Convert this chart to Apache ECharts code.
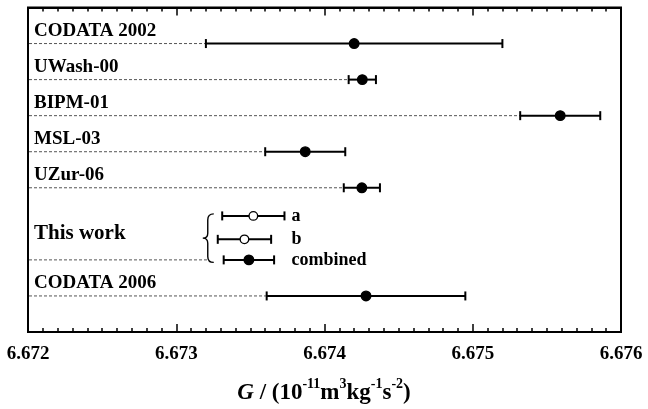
<!DOCTYPE html>
<html>
<head>
<meta charset="utf-8">
<script src="https://cdn.jsdelivr.net/npm/echarts@6/dist/echarts.min.js"></script>
<style>
html,body{margin:0;padding:0;background:#fff;}
#chart{width:648px;height:409px;}
</style>
</head>
<body>
<div id="chart"></div>
<script>
// ---- data ----
const rowLabels = ['CODATA 2002', 'UWash-00', 'BIPM-01', 'MSL-03', 'UZur-06', 'CODATA 2006'];
const rowPos = [8, 7, 6, 5, 4, 1];
const rowValues = [6.67420, 6.674255, 6.67559, 6.67387, 6.674252, 6.67428];
const rowErrors = [0.00100, 0.000092, 0.00027, 0.00027, 0.000122, 0.00067];

const groupLabel = 'This work';
const subLabels = ['a', 'b', 'combined'];
const subPos = [3.22, 2.57, 2];
const subValues = [6.67352, 6.67346, 6.67349];
const subErrors = [0.00021, 0.00018, 0.00017];
const subFilled = [false, false, true];

const xMin = 6.672, xMax = 6.676, xStep = 0.001;
const yMin = 0, yMax = 9;
const xTitle = '{i|G}{n| / (10}{s|-11}{n|m}{s|3}{n|kg}{s|-1}{n|s}{s|-2}{n|)}';

// ---- style ----
const FONT = '"Liberation Serif", "Times New Roman", serif';

function errorBarChildren(api, v, err, y, filled) {
  const pc = api.coord([v, y]);
  const pl = api.coord([v - err, y]);
  const ph = api.coord([v + err, y]);
  const capH = 4.5;
  const st = { stroke: '#000', lineWidth: 2 };
  return [
    { type: 'line', shape: { x1: pl[0], y1: pl[1], x2: ph[0], y2: ph[1] }, style: st },
    { type: 'line', shape: { x1: pl[0], y1: pl[1] - capH, x2: pl[0], y2: pl[1] + capH }, style: st },
    { type: 'line', shape: { x1: ph[0], y1: ph[1] - capH, x2: ph[0], y2: ph[1] + capH }, style: st },
    { type: 'circle', shape: { cx: pc[0], cy: pc[1], r: filled ? 4.8 : 4.3 },
      style: { fill: filled ? '#000' : '#fff', stroke: '#000', lineWidth: 1.3 } }
  ];
}

function dashed(x1, x2, y) {
  return { type: 'line', shape: { x1: x1, y1: y, x2: x2, y2: y },
    style: { stroke: '#555', lineWidth: 1, lineDash: [3, 2] } };
}

function renderRow(params, api) {
  const i = params.dataIndex;
  const v = api.value(0), err = api.value(1), y = api.value(2);
  const p0 = api.coord([xMin, y]);
  const pl = api.coord([v - err, y]);
  const children = [dashed(p0[0] + 1, pl[0], p0[1])];
  children.push.apply(children, errorBarChildren(api, v, err, y, true));
  children.push({ type: 'text', style: {
    text: rowLabels[i], x: p0[0] + 6, y: p0[1] - 12.5,
    fontSize: 19, fontWeight: 'bold', fontFamily: FONT, fill: '#000',
    align: 'left', verticalAlign: 'middle' } });
  return { type: 'group', children: children };
}

function renderSub(params, api) {
  const i = params.dataIndex;
  const v = api.value(0), err = api.value(1), y = api.value(2);
  const children = errorBarChildren(api, v, err, y, subFilled[i]);
  let maxRight = -Infinity, minLeft = Infinity;
  for (let k = 0; k < subValues.length; k++) {
    maxRight = Math.max(maxRight, api.coord([subValues[k] + subErrors[k], subPos[k]])[0]);
    minLeft = Math.min(minLeft, api.coord([subValues[k] - subErrors[k], subPos[k]])[0]);
  }
  const pc = api.coord([v, y]);
  children.push({ type: 'text', style: {
    text: subLabels[i], x: maxRight + 7, y: pc[1] + 0.5,
    fontSize: 18, fontWeight: 'bold', fontFamily: FONT, fill: '#000',
    align: 'left', verticalAlign: 'middle' } });
  if (i === subValues.length - 1) {
    const top = api.coord([xMin, subPos[0]])[1] - 2;
    const bot = api.coord([xMin, subPos[subPos.length - 1]])[1] + 2.5;
    const mid = (top + bot) / 2;
    const tipX = minLeft - 15;
    const stemX = tipX + 5;
    const armX = tipX + 11;
    const p0 = api.coord([xMin, y]);
    children.push(dashed(p0[0] + 1, stemX, pc[1]));
    children.push({ type: 'path', shape: {
      pathData: 'M' + armX + ' ' + top +
        ' Q' + stemX + ' ' + top + ' ' + stemX + ' ' + (top + 6) +
        ' L' + stemX + ' ' + (mid - 5) +
        ' Q' + stemX + ' ' + mid + ' ' + tipX + ' ' + mid +
        ' Q' + stemX + ' ' + mid + ' ' + stemX + ' ' + (mid + 5) +
        ' L' + stemX + ' ' + (bot - 6) +
        ' Q' + stemX + ' ' + bot + ' ' + armX + ' ' + bot
    }, style: { stroke: '#000', lineWidth: 1.4, fill: null } });
    const ym = api.coord([xMin, (subPos[0] + subPos[subPos.length - 1]) / 2])[1];
    children.push({ type: 'text', style: {
      text: groupLabel, x: p0[0] + 6, y: ym - 4,
      fontSize: 21, fontWeight: 'bold', fontFamily: FONT, fill: '#000',
      align: 'left', verticalAlign: 'middle' } });
  }
  return { type: 'group', children: children };
}

function tickAxis(gridIndex, position, inside) {
  return {
    gridIndex: gridIndex,
    type: 'value', min: xMin, max: xMax, interval: xStep, position: position,
    axisLabel: { show: false },
    axisTick: { show: true, inside: inside, length: 8, lineStyle: { color: '#000', width: 1.5 } },
    minorTick: { show: true, splitNumber: 10, length: 4, lineStyle: { color: '#000', width: 1.5 } },
    axisLine: { show: true, onZero: false, lineStyle: { color: '#000', width: 2 } },
    splitLine: { show: false }
  };
}

const gridRect = { left: 28, right: 27, top: 7.5, bottom: 77 };

const chart = echarts.init(document.getElementById('chart'), null, { renderer: 'canvas' });
chart.setOption({
  backgroundColor: '#fff',
  animation: false,
  grid: [
    Object.assign({ show: true, borderColor: '#000', borderWidth: 2 }, gridRect),
    Object.assign({}, gridRect),
    // thin strip whose top edge is the plot's bottom edge: its top axis carries the bottom ticks
    { left: 28, right: 27, top: 332, height: 10 }
  ],
  xAxis: [
    {
      gridIndex: 0,
      type: 'value', min: xMin, max: xMax, interval: xStep, position: 'bottom',
      axisLine: { show: true, onZero: false, lineStyle: { color: '#000', width: 2 } },
      axisTick: { show: false },
      splitLine: { show: false },
      axisLabel: { show: true, margin: 13, color: '#000', fontSize: 19, fontWeight: 'bold', fontFamily: FONT,
        formatter: function (v) { return v.toFixed(3); } }
    },
    tickAxis(1, 'top', true),
    tickAxis(2, 'top', false)
  ],
  yAxis: [
    { gridIndex: 0, type: 'value', min: yMin, max: yMax, show: false, splitLine: { show: false } },
    { gridIndex: 1, type: 'value', min: yMin, max: yMax, show: false, splitLine: { show: false } },
    { gridIndex: 2, type: 'value', min: 0, max: 1, show: false, splitLine: { show: false } }
  ],
  graphic: [{
    type: 'text', left: 'center', top: 377, silent: true,
    style: {
      text: xTitle,
      fill: '#000',
      font: 'bold 23px ' + FONT,
      rich: {
        i: { fontSize: 23, fontStyle: 'italic', fontWeight: 'bold', fontFamily: FONT, fill: '#000', lineHeight: 28, verticalAlign: 'bottom' },
        n: { fontSize: 23, fontWeight: 'bold', fontFamily: FONT, fill: '#000', lineHeight: 28, verticalAlign: 'bottom' },
        s: { fontSize: 14, fontWeight: 'bold', fontFamily: FONT, fill: '#000', lineHeight: 14, verticalAlign: 'top' }
      }
    }
  }],
  series: [
    {
      type: 'custom', xAxisIndex: 0, yAxisIndex: 0, renderItem: renderRow, silent: true,
      data: rowValues.map(function (v, i) { return [v, rowErrors[i], rowPos[i]]; })
    },
    {
      type: 'custom', xAxisIndex: 0, yAxisIndex: 0, renderItem: renderSub, silent: true,
      data: subValues.map(function (v, i) { return [v, subErrors[i], subPos[i]]; })
    }
  ]
});
</script>
</body>
</html>
